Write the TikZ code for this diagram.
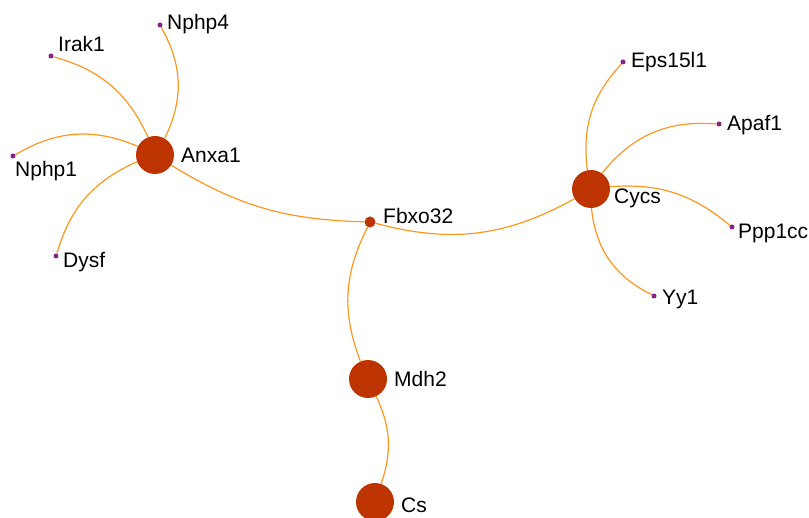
\documentclass[tikz,border=0pt]{standalone}
\usepackage{fontspec}
\setmainfont{Liberation Sans}
\definecolor{hubred}{RGB}{190,52,0}
\definecolor{linkorange}{RGB}{255,150,30}
\definecolor{leafpurple}{RGB}{135,35,135}

\begin{document}
\begin{tikzpicture}[x=1pt, y=-1pt,
        hub/.style={circle, fill=hubred, inner sep=0pt, minimum size=38pt},
        smallhub/.style={circle, fill=hubred, inner sep=0pt, minimum size=11pt},
        leaf/.style={circle, fill=leafpurple, inner sep=0pt, minimum size=5pt},
        link/.style={draw=linkorange, line width=1.2pt},
        lbl/.style={anchor=base west, inner sep=0pt, font=\fontsize{21}{25}\selectfont}]
        \useasboundingbox (0,0) rectangle (809,518);

        % hubs
        \node[hub] (anxa1) at (155,155) {};
        \node[smallhub] (fbxo32) at (370,222) {};
        \node[hub] (cycs) at (591,189) {};
        \node[hub] (mdh2) at (368,379) {};
        \node[hub] (cs) at (375,502) {};

        % leaves
        \node[leaf] (nphp4) at (160,25) {};
        \node[leaf] (irak1) at (51,56) {};
        \node[leaf] (nphp1) at (13,156) {};
        \node[leaf] (dysf) at (56,256) {};
        \node[leaf] (eps15l1) at (623,62) {};
        \node[leaf] (apaf1) at (719,124) {};
        \node[leaf] (ppp1cc) at (732,227) {};
        \node[leaf] (yy1) at (654,296) {};

        % links
        \draw[link] (anxa1) to[bend right=28] (nphp4);
        \draw[link] (anxa1) to[bend right=25] (irak1);
        \draw[link] (anxa1) to[bend right=27] (nphp1);
        \draw[link] (anxa1) to[bend right=25] (dysf);
        \draw[link] (anxa1) to[bend right=15] (fbxo32);
        \draw[link] (fbxo32) to[bend right=22] (cycs);
        \draw[link] (fbxo32) to[bend right=24] (mdh2);
        \draw[link] (mdh2) to[bend left=22] (cs);
        \draw[link] (cycs) to[bend left=25] (eps15l1);
        \draw[link] (cycs) to[bend left=28] (apaf1);
        \draw[link] (cycs) to[bend left=22] (ppp1cc);
        \draw[link] (cycs) to[bend right=29] (yy1);

        % labels
        \node[lbl] (lanxa1) at (181,163) {Anxa1};
        \node[lbl] (lfbxo32) at (383,224) {Fbxo32};
        \node[lbl] (lcycs) at (614,204) {Cycs};
        \node[lbl] (lmdh2) at (394,387) {Mdh2};
        \node[lbl] (lcs) at (401,512) {Cs};
        \node[lbl] (lnphp4) at (167,30) {Nphp4};
        \node[lbl] (lirak1) at (58,52) {Irak1};
        \node[lbl] (lnphp1) at (15,177) {Nphp1};
        \node[lbl] (ldysf) at (63,268) {Dysf};
        \node[lbl] (leps15l1) at (631,68) {Eps15l1};
        \node[lbl] (lapaf1) at (727,131) {Apaf1};
        \node[lbl] (lppp1cc) at (738,239) {Ppp1cc};
        \node[lbl] (lyy1) at (662,305) {Yy1};
\end{tikzpicture}
\end{document}
